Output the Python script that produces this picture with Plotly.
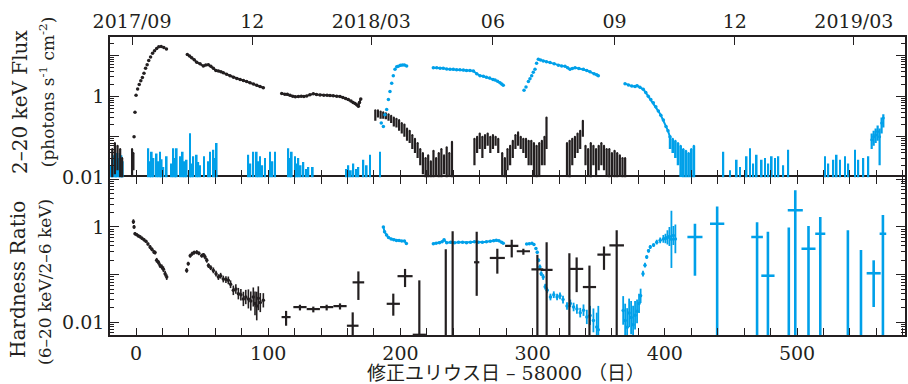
import plotly.graph_objects as go

BLACK = "#231f20"
BLUE = "#00a0e9"

# ---------------- axis labels ----------------
month_days = [-3, 88, 178, 270, 362, 453, 543]
month_labels = ["2017/09", "12", "2018/03", "06", "09", "12", "2019/03"]
x_major = [0, 100, 200, 300, 400, 500]
x_major_text = ["0", "100", "200", "300", "400", "500"]
y_labeled = [0.01, 1]
y_labeled_text = ["0.01", "1"]
y_unlabeled = [0.1, 10]

# ---------------- top panel: 2-20 keV flux ----------------
# black: outburst rise (discrete dots)
fx_blk_rise_day = [-1.5, -0.8, 0.0, 1.2, 2.4, 3.6, 4.8, 6.0, 7.2, 8.4, 9.6, 11.0, 12.5, 14.0, 15.6, 17.2, 19.0, 21.0, 23.0]
fx_blk_rise_val = [0.10, 0.40, 1.05, 1.5, 1.95, 2.4, 2.9, 3.7, 4.9, 6.0, 7.6, 9.3, 11.5, 13.2, 15.0, 16.5, 16.8, 16.0, 14.5]
# black: decay segments (dense)
fx_blk_dec1_day = [38.8, 40.5, 42.1, 44, 45.9, 48.4, 50.9, 52.8, 54.7, 56.6, 58.5, 60.4, 62.3, 64.2, 66, 68.5, 71.1, 73.7, 76.2, 78.7, 81.2, 83.7, 86.2, 88.8, 91.3, 93.8, 96.3]
fx_blk_dec1_val = [10.7, 9.8, 8.9, 7.9, 6.9, 6.3, 5.6, 5.9, 6.0, 5.5, 4.9, 4.3, 4.2, 4.0, 3.8, 3.5, 3.2, 2.95, 2.75, 2.6, 2.45, 2.3, 2.15, 2.0, 1.86, 1.74, 1.62]
fx_blk_dec2_day = [110.2, 112.5, 114.5, 116.5, 118.5, 120.5, 122.8, 125, 127, 129.1, 131.5, 134.1, 136.5, 139.2, 142, 144.5, 146.7, 149.2, 151.8, 154.3, 156.5, 158.6, 160.6, 162.6, 164.2, 165.7, 167, 168.2, 169, 170]
fx_blk_dec2_val = [1.17, 1.12, 1.12, 1.05, 1.0, 0.97, 0.98, 1.0, 0.98, 1.02, 1.08, 1.15, 1.1, 1.07, 1.06, 1.05, 1.04, 1.03, 1.0, 0.98, 0.93, 0.88, 0.83, 0.76, 0.7, 0.66, 0.62, 0.57, 0.7, 0.85]
# black: noisy points (range low..high)
fx_blk_noise_day = [-18, -16, -14, -12, -10.5, -3, -2,
                    181, 183, 185, 187, 189, 191, 193, 195, 197, 199, 201, 203, 205, 207, 209, 211, 213, 215, 217, 219, 221, 223, 225, 227, 229, 231, 233, 235, 237, 239,
                    256, 258, 260, 262, 264, 266, 268, 270, 272, 274, 277, 279, 281, 283, 285, 287, 289, 291, 293, 295, 297, 299, 301, 303, 305, 307, 309, 310.5,
                    326, 328, 330, 332, 334, 336, 338, 340, 342, 344, 346, 348, 350, 352, 354, 356, 358, 360, 362, 364, 366, 368, 370]
fx_blk_noise_lo = [0.01, 0.012, 0.015, 0.01, 0.008, 0.01, 0.015,
                   0.25, 0.3, 0.28, 0.28, 0.27, 0.25, 0.22, 0.18, 0.17, 0.14, 0.12, 0.1, 0.08, 0.07, 0.05, 0.04, 0.03, 0.02, 0.012, 0.008, 0.008, 0.008, 0.008, 0.01, 0.008, 0.008, 0.012, 0.008, 0.01, 0.008,
                   0.02, 0.04, 0.05, 0.03, 0.05, 0.06, 0.04, 0.05, 0.06, 0.04, 0.01, 0.008, 0.015, 0.02, 0.03, 0.05, 0.06, 0.05, 0.04, 0.03, 0.02, 0.02, 0.01, 0.008, 0.01, 0.02, 0.02, 0.05,
                   0.01, 0.008, 0.02, 0.03, 0.04, 0.05, 0.1, 0.02, 0.01, 0.008, 0.02, 0.01, 0.015, 0.02, 0.015, 0.01, 0.008, 0.01, 0.008, 0.008, 0.01, 0.008, 0.008]
fx_blk_noise_hi = [0.05, 0.07, 0.06, 0.05, 0.03, 0.05, 0.04,
                   0.45, 0.45, 0.42, 0.4, 0.38, 0.36, 0.33, 0.3, 0.28, 0.26, 0.22, 0.2, 0.16, 0.14, 0.11, 0.09, 0.07, 0.05, 0.04, 0.03, 0.035, 0.025, 0.045, 0.03, 0.04, 0.05, 0.035, 0.055, 0.04, 0.075,
                   0.09, 0.1, 0.12, 0.1, 0.11, 0.12, 0.1, 0.11, 0.1, 0.09, 0.04, 0.03, 0.05, 0.06, 0.08, 0.11, 0.13, 0.1, 0.09, 0.09, 0.08, 0.08, 0.07, 0.06, 0.07, 0.08, 0.1, 0.3,
                   0.07, 0.08, 0.09, 0.1, 0.12, 0.14, 0.25, 0.06, 0.05, 0.07, 0.06, 0.05, 0.06, 0.07, 0.06, 0.05, 0.05, 0.04, 0.045, 0.04, 0.035, 0.03, 0.03]
# blue: rises (discrete dots) and dense segments
fx_blu_rise1_day = [185.5, 187.1, 188.3, 189.6, 190.9, 192.1, 193.4, 194.6, 195.9, 197.2]
fx_blu_rise1_val = [0.22, 0.18, 0.35, 0.47, 0.83, 1.3, 2.1, 3.2, 4.6, 5.3]
fx_blu_rise2_day = [293.5, 295, 296.8, 298, 299.3, 300.5, 301.8, 303]
fx_blu_rise2_val = [1.4, 1.7, 2.3, 2.7, 3.2, 3.9, 4.6, 6.5]
fx_blu_seg1_day = [198.4, 200, 201.5, 203, 204.7]
fx_blu_seg1_val = [5.5, 5.8, 5.9, 5.9, 5.6]
fx_blu_seg2_day = [224.9, 227.5, 230, 232.4, 235, 237.5, 240, 242.5, 245, 247.6, 250, 252.6, 255.2, 257.7, 260.2, 262.7, 265, 267.5, 270, 271.6, 273.5, 275.3, 276.6, 277.8]
fx_blu_seg2_val = [5.0, 5.0, 4.9, 4.9, 4.7, 4.6, 4.6, 4.5, 4.5, 4.4, 4.3, 4.3, 4.2, 3.6, 3.2, 3.1, 2.95, 2.8, 2.6, 2.5, 2.35, 2.15, 2.0, 1.86]
fx_blu_seg3_day = [304.3, 306, 308.1, 310.5, 313.2, 316.3, 319.5, 322, 324.5, 326.5, 328.3, 330, 332.1, 335, 338.4, 341, 343.4, 346.5, 348.5, 349.7]
fx_blu_seg3_val = [8.1, 7.8, 7.4, 7.1, 6.8, 6.3, 5.8, 5.6, 5.5, 5.0, 4.6, 4.8, 5.0, 4.8, 4.6, 4.3, 4.0, 3.6, 3.4, 3.2]
fx_blu_seg4_day = [369.9, 372.5, 375, 377.5, 379, 381.2, 383.7, 385.6, 387.5, 389.4, 391.3, 393.2, 395.1, 397, 398.9, 400.9, 402.4, 403.9]
fx_blu_seg4_val = [2.04, 1.9, 1.78, 1.74, 1.82, 1.66, 1.48, 1.23, 1.0, 0.83, 0.69, 0.55, 0.43, 0.34, 0.26, 0.18, 0.14, 0.10]
# blue: noisy tail after decay (range low..high)
fx_blu_noise_day = [404, 406, 408, 410, 412, 414, 416, 418, 420, 422]
fx_blu_noise_lo = [0.05, 0.04, 0.03, 0.02, 0.01, 0.008, 0.008, 0.008, 0.008, 0.008]
fx_blu_noise_hi = [0.1, 0.09, 0.08, 0.07, 0.06, 0.05, 0.045, 0.04, 0.05, 0.06]
# blue: late re-brightening with error
fx_blu_end_day = [556.5, 558, 559.5, 561, 562.5, 564, 565.3]
fx_blu_end_val = [0.085, 0.1, 0.11, 0.135, 0.1, 0.22, 0.29]
fx_blu_end_lo = [0.05, 0.06, 0.07, 0.08, 0.02, 0.12, 0.17]
fx_blu_end_hi = [0.12, 0.14, 0.16, 0.19, 0.16, 0.3, 0.36]
# blue: upper-limit-like spikes from the bottom
fx_blu_spike_day = [-19, -18, -17, -16, -15, -14, -13, -12, -11, -10,
                    9.3, 10.6, 11.9, 13.2, 15.6, 16.9, 18.2, 19.4, 20.7, 23.2, 26.9, 28.2, 29.5, 30.8, 33.3, 35.3, 36.8, 38.3, 40.8, 42.0, 43.3, 45.9, 47.1, 48.4, 51.4, 54.5, 56, 58.5, 59.7, 61,
                    84.9, 86.5, 88.7, 91.3, 92.5, 93.8, 95.5, 97.6, 101.4, 103.2, 105.1, 115.2, 116.5, 117.8, 120.3, 121.5, 122.8, 124.5, 126.6, 128.5, 130.4, 133.7,
                    159.0, 160.6, 162.5, 164.4, 166.3, 168.2, 172, 174.5, 177, 184.6,
                    444.3, 449.3, 454.4, 456.9, 461.9, 464.4, 466.9, 469.5, 473.3, 475.8, 478.3, 480.9, 483.4, 485.9, 489.6, 493.4,
                    521.2, 523.7, 527.5, 530, 532.5, 536.3, 538.8, 543.9, 546.4, 550.2, 554]
fx_blu_spike_val = [0.02, 0.03, 0.035, 0.03, 0.035, 0.04, 0.03, 0.04, 0.035, 0.025,
                    0.052, 0.025, 0.043, 0.03, 0.039, 0.025, 0.043, 0.028, 0.018, 0.033, 0.022, 0.052, 0.03, 0.052, 0.033, 0.043, 0.025, 0.027, 0.123, 0.022, 0.033, 0.036, 0.024, 0.020, 0.033, 0.025, 0.043, 0.048, 0.03, 0.07,
                    0.036, 0.022, 0.043, 0.043, 0.025, 0.033, 0.02, 0.030, 0.043, 0.025, 0.043, 0.052, 0.03, 0.043, 0.033, 0.022, 0.030, 0.02, 0.024, 0.016, 0.018, 0.018,
                    0.016, 0.020, 0.015, 0.022, 0.016, 0.018, 0.027, 0.02, 0.036, 0.043,
                    0.043, 0.015, 0.027, 0.018, 0.033, 0.052, 0.022, 0.036, 0.027, 0.030, 0.022, 0.033, 0.030, 0.033, 0.020, 0.048,
                    0.033, 0.022, 0.027, 0.036, 0.027, 0.033, 0.022, 0.048, 0.027, 0.030, 0.033]

# ---------------- bottom panel: hardness ratio ----------------
hr_blk1_day = [-2.0, -1.5, -0.8, 0.5, 1.8, 3.0, 4.5, 6.0, 7.5, 9.0, 10.6, 12.0, 13.5, 14.4, 15.6, 17.0, 18.2, 19.5, 20.7, 22.0, 23.2]
hr_blk1_val = [1.29, 1.0, 0.72, 0.69, 0.65, 0.62, 0.58, 0.54, 0.50, 0.44, 0.38, 0.34, 0.30, 0.29, 0.20, 0.18, 0.155, 0.145, 0.13, 0.105, 0.089]
hr_blk1_dex = [0.05, 0.04, 0.03, 0.03, 0.03, 0.03, 0.03, 0.03, 0.03, 0.03, 0.04, 0.04, 0.04, 0.04, 0.05, 0.05, 0.05, 0.05, 0.06, 0.06, 0.06]
hr_blk2_day = [38.3, 39.5, 41.0, 42.5, 44.0, 45.9, 47.5, 49.7, 51.0, 52.2, 53.5, 54.8, 56.5, 58.5, 60.5, 62.3, 64.0, 66.0, 68.0, 69.8, 71.5, 73.6, 75.5, 77.4, 79.3, 81.2, 83.0, 85.0, 86.8, 88.7, 90.0, 91.3, 92.5, 94.0, 96.3]
hr_blk2_val = [0.123, 0.17, 0.25, 0.275, 0.29, 0.295, 0.28, 0.25, 0.26, 0.235, 0.20, 0.155, 0.14, 0.123, 0.105, 0.089, 0.095, 0.081, 0.079, 0.076, 0.063, 0.047, 0.05, 0.04, 0.038, 0.031, 0.034, 0.031, 0.028, 0.034, 0.025, 0.022, 0.032, 0.026, 0.029]
hr_blk2_dex = [0.05, 0.04, 0.04, 0.04, 0.04, 0.04, 0.04, 0.04, 0.04, 0.05, 0.05, 0.05, 0.05, 0.06, 0.06, 0.06, 0.06, 0.07, 0.07, 0.08, 0.08, 0.1, 0.1, 0.12, 0.12, 0.15, 0.15, 0.2, 0.2, 0.2, 0.25, 0.3, 0.25, 0.2, 0.15]
# black crosses: day, value, half-width (days), low, high
hr_blk_x_day = [113.5, 124, 134.1, 144.2, 154.3, 163.9, 168.2, 194.6, 203.5, 214.3, 234.3, 239.5, 257.7, 273.3, 284.2, 293, 303.6, 310.6, 327.8, 333.3, 343, 354, 363.6]
hr_blk_x_val = [0.0129, 0.0209, 0.019, 0.0209, 0.0219, 0.0085, 0.069, 0.0245, 0.093, 0.0055, 0.003, 0.003, 0.182, 0.224, 0.40, 0.31, 0.129, 0.126, 0.003, 0.132, 0.055, 0.263, 0.41]
hr_blk_x_hw = [3.4, 5, 5, 5, 5, 4.4, 4.4, 5, 5.7, 5, 0, 0, 2, 5.7, 5, 5, 4.5, 4.5, 0, 5, 5, 5, 5.5]
hr_blk_x_lo = [0.0085, 0.0178, 0.0162, 0.0178, 0.0186, 0.003, 0.0295, 0.0138, 0.055, 0.003, 0.003, 0.003, 0.036, 0.105, 0.23, 0.26, 0.003, 0.003, 0.003, 0.043, 0.003, 0.126, 0.003]
hr_blk_x_hi = [0.0174, 0.0234, 0.0214, 0.0234, 0.025, 0.0162, 0.117, 0.04, 0.132, 0.076, 0.34, 0.81, 0.79, 0.35, 0.54, 0.35, 0.26, 0.48, 0.28, 0.23, 0.155, 0.39, 0.85]
# blue dense segments
hr_blu1_day = [187.1, 188, 189.5, 191, 193, 195, 197, 199, 201, 203, 204.5]
hr_blu1_val = [1.0, 0.79, 0.68, 0.6, 0.56, 0.54, 0.52, 0.52, 0.51, 0.51, 0.45]
hr_blu2_day = [224.9, 227, 229.5, 231.5, 233, 235, 238, 241, 244, 247, 250, 253, 256, 259, 262, 265, 268, 270.5, 272.5, 274.5, 276.5, 277.8]
hr_blu2_val = [0.447, 0.457, 0.468, 0.49, 0.537, 0.468, 0.479, 0.468, 0.479, 0.479, 0.468, 0.479, 0.49, 0.479, 0.479, 0.49, 0.50, 0.513, 0.525, 0.513, 0.479, 0.457]
hr_blu3_day = [295.5, 297.5, 299.5, 301, 302.5, 303.5, 304.5, 305.5, 306.5, 308, 309.5, 311, 313.5, 316, 318.5, 320.7, 323, 326, 328.5, 331, 333.5, 336, 338.5, 341, 343.5, 346, 348.5, 349.7]
hr_blu3_val = [0.437, 0.447, 0.457, 0.427, 0.355, 0.295, 0.2, 0.145, 0.105, 0.089, 0.056, 0.047, 0.034, 0.038, 0.034, 0.036, 0.030, 0.022, 0.025, 0.021, 0.019, 0.016, 0.018, 0.013, 0.014, 0.011, 0.008, 0.007]
hr_blu3_dex = [0.02, 0.02, 0.02, 0.02, 0.03, 0.03, 0.04, 0.05, 0.05, 0.06, 0.06, 0.06, 0.07, 0.07, 0.07, 0.07, 0.08, 0.08, 0.08, 0.09, 0.1, 0.1, 0.12, 0.15, 0.2, 0.25, 0.3, 0.5]
hr_blu4_day = [368.5, 370, 371.5, 373, 374.5, 376, 377.5, 379, 380.5, 381.7, 383.5, 385, 386.3, 387.7, 389, 391.5, 393.9, 396.5, 398.9, 400.5, 402, 403.5, 405, 406.5, 408]
hr_blu4_val = [0.0178, 0.011, 0.0079, 0.0158, 0.0126, 0.0089, 0.0141, 0.017, 0.025, 0.036, 0.105, 0.158, 0.234, 0.316, 0.38, 0.417, 0.479, 0.525, 0.562, 0.575, 0.603, 0.631, 0.55, 0.66, 0.562]
hr_blu4_dex = [0.3, 0.35, 0.4, 0.3, 0.35, 0.4, 0.3, 0.25, 0.2, 0.15, 0.06, 0.05, 0.04, 0.04, 0.04, 0.04, 0.05, 0.06, 0.08, 0.1, 0.15, 0.2, 0.6, 0.2, 0.3]
# blue crosses: day, value, half-width (days), low, high
hr_blu_x_day = [422.8, 439.6, 469.8, 478, 493.8, 498.7, 508.7, 517.6, 538.5, 548.4, 558, 565]
hr_blu_x_val = [0.617, 1.17, 0.617, 0.095, 0.003, 2.24, 0.35, 0.72, 0.003, 0.003, 0.107, 0.72]
hr_blu_x_hw = [5.7, 5.4, 4.4, 5, 0, 5.7, 5.3, 3.8, 0, 0, 5.3, 2.5]
hr_blu_x_lo = [0.095, 0.003, 0.003, 0.003, 0.003, 0.003, 0.003, 0.003, 0.003, 0.003, 0.021, 0.003]
hr_blu_x_hi = [1.17, 2.7, 1.26, 0.79, 0.97, 5.9, 1.05, 1.62, 0.85, 0.33, 0.2, 1.78]


def rng_err(vals, lo, hi, color, thick=2.0):
    return dict(type="data", symmetric=False,
                array=[h - v for v, h in zip(vals, hi)],
                arrayminus=[v - l for v, l in zip(vals, lo)],
                color=color, thickness=thick, width=0)


def dex_err(vals, dex, color, thick=1.5):
    return dict(type="data", symmetric=False,
                array=[v * 10 ** d - v for v, d in zip(vals, dex)],
                arrayminus=[v - v / 10 ** d for v, d in zip(vals, dex)],
                color=color, thickness=thick, width=0)


fig = go.Figure()
TOP = dict(xaxis="x2", yaxis="y2")

# ---- top panel traces ----
fig.add_trace(go.Bar(x=fx_blu_spike_day, y=fx_blu_spike_val, width=1.3,
                     marker=dict(color=BLUE, line=dict(width=0)), **TOP))
fig.add_trace(go.Scatter(x=fx_blk_noise_day, y=fx_blk_noise_hi, mode="markers",
                         marker=dict(size=2, color=BLACK),
                         error_y=rng_err(fx_blk_noise_hi, fx_blk_noise_lo, fx_blk_noise_hi, BLACK, 2.2), **TOP))
fig.add_trace(go.Scatter(x=fx_blu_noise_day, y=fx_blu_noise_hi, mode="markers",
                         marker=dict(size=2, color=BLUE),
                         error_y=rng_err(fx_blu_noise_hi, fx_blu_noise_lo, fx_blu_noise_hi, BLUE, 2.6), **TOP))
fig.add_trace(go.Scatter(x=fx_blu_end_day, y=fx_blu_end_val, mode="markers",
                         marker=dict(size=3, color=BLUE),
                         error_y=rng_err(fx_blu_end_val, fx_blu_end_lo, fx_blu_end_hi, BLUE, 2.2), **TOP))
fig.add_trace(go.Scatter(x=fx_blk_rise_day, y=fx_blk_rise_val, mode="markers",
                         marker=dict(size=3.5, color=BLACK), **TOP))
for dd, vv in [(fx_blk_dec1_day, fx_blk_dec1_val), (fx_blk_dec2_day, fx_blk_dec2_val)]:
    fig.add_trace(go.Scatter(x=dd, y=vv, mode="lines+markers", line=dict(color=BLACK, width=2),
                             marker=dict(size=3.5, color=BLACK), **TOP))
for dd, vv in [(fx_blu_rise1_day, fx_blu_rise1_val), (fx_blu_rise2_day, fx_blu_rise2_val)]:
    fig.add_trace(go.Scatter(x=dd, y=vv, mode="markers", marker=dict(size=3.5, color=BLUE), **TOP))
for dd, vv in [(fx_blu_seg1_day, fx_blu_seg1_val), (fx_blu_seg2_day, fx_blu_seg2_val),
               (fx_blu_seg3_day, fx_blu_seg3_val), (fx_blu_seg4_day, fx_blu_seg4_val)]:
    fig.add_trace(go.Scatter(x=dd, y=vv, mode="lines+markers", line=dict(color=BLUE, width=2),
                             marker=dict(size=3.5, color=BLUE), **TOP))
# empty traces so the overlay axes (dates on top, unlabeled decade ticks) are drawn
fig.add_trace(go.Scatter(x=month_days, y=[None] * len(month_days), xaxis="x3", yaxis="y2",
                         mode="markers", hoverinfo="skip"))
fig.add_trace(go.Scatter(x=[None, None], y=y_unlabeled, xaxis="x", yaxis="y3",
                         mode="markers", hoverinfo="skip"))
fig.add_trace(go.Scatter(x=[None, None], y=y_unlabeled, xaxis="x2", yaxis="y4",
                         mode="markers", hoverinfo="skip"))

# ---- bottom panel traces ----
for dd, vv, ee in [(hr_blk1_day, hr_blk1_val, hr_blk1_dex), (hr_blk2_day, hr_blk2_val, hr_blk2_dex)]:
    fig.add_trace(go.Scatter(x=dd, y=vv, mode="markers", marker=dict(size=3.5, color=BLACK),
                             error_y=dex_err(vv, ee, BLACK, 1.6)))
for dd, vv, ee in [(hr_blu3_day, hr_blu3_val, hr_blu3_dex), (hr_blu4_day, hr_blu4_val, hr_blu4_dex)]:
    fig.add_trace(go.Scatter(x=dd, y=vv, mode="markers", marker=dict(size=3.5, color=BLUE),
                             error_y=dex_err(vv, ee, BLUE, 1.8)))
for dd, vv in [(hr_blu1_day, hr_blu1_val), (hr_blu2_day, hr_blu2_val)]:
    fig.add_trace(go.Scatter(x=dd, y=vv, mode="lines+markers", line=dict(color=BLUE, width=2),
                             marker=dict(size=3.5, color=BLUE)))
fig.add_trace(go.Scatter(x=hr_blk_x_day, y=hr_blk_x_val, mode="markers", marker=dict(size=1, color=BLACK),
                         error_y=rng_err(hr_blk_x_val, hr_blk_x_lo, hr_blk_x_hi, BLACK, 2.2),
                         error_x=dict(type="data", array=hr_blk_x_hw, color=BLACK, thickness=2.2, width=0)))
fig.add_trace(go.Scatter(x=hr_blu_x_day, y=hr_blu_x_val, mode="markers", marker=dict(size=1, color=BLUE),
                         error_y=rng_err(hr_blu_x_val, hr_blu_x_lo, hr_blu_x_hi, BLUE, 2.6),
                         error_x=dict(type="data", array=hr_blu_x_hw, color=BLUE, thickness=2.6, width=0)))

XR = [-19.7, 581.7]
YR_BOT = [-2.265, 1.04]
YR_TOP = [-2.0, 1.46]
minor_y = [m * 10 ** e for e in range(-3, 2) for m in range(2, 10)]
TICKFONT = dict(family="DejaVu Serif", size=19, color=BLACK)

axis_common = dict(showline=True, linecolor=BLACK, linewidth=1.6, showgrid=False, zeroline=False,
                   ticks="inside", tickcolor=BLACK, tickwidth=1.4, tickfont=TICKFONT, automargin=False)
x_minor = dict(ticks="inside", ticklen=7, tickwidth=1.4, tickcolor=BLACK, dtick=20, tick0=0)
yaxis_common = dict(axis_common, type="log", tickmode="array", tickvals=y_labeled, ticktext=y_labeled_text,
                    ticklen=9, mirror="ticks",
                    minor=dict(ticks="inside", ticklen=4, tickwidth=1, tickcolor=BLACK, tickvals=minor_y))
y_overlay = dict(type="log", tickmode="array", tickvals=y_unlabeled, showticklabels=False,
                 ticks="inside", ticklen=9, tickwidth=1.4, tickcolor=BLACK, showline=False,
                 mirror="ticks", showgrid=False, zeroline=False, automargin=False)

fig.update_layout(
    width=908, height=384,
    margin=dict(l=110, r=3, t=37, b=49, autoexpand=False),
    paper_bgcolor="white", plot_bgcolor="white",
    showlegend=False, barmode="overlay",
    xaxis=dict(axis_common, domain=[0, 1], anchor="y", range=XR, tickmode="array",
               tickvals=x_major, ticktext=x_major_text, ticklen=7, mirror="ticks", minor=x_minor),
    yaxis=dict(yaxis_common, domain=[0, 0.529], anchor="x", range=YR_BOT),
    yaxis3=dict(y_overlay, overlaying="y", anchor="x", range=YR_BOT),
    xaxis2=dict(axis_common, domain=[0, 1], anchor="y2", range=XR, tickmode="array",
                tickvals=x_major, ticklen=7, showticklabels=False, showline=False, mirror=False,
                minor=x_minor),
    yaxis2=dict(yaxis_common, domain=[0.529, 1], anchor="x2", range=YR_TOP),
    yaxis4=dict(y_overlay, overlaying="y2", anchor="x2", range=YR_TOP),
    xaxis3=dict(axis_common, overlaying="x2", anchor="y2", side="top", range=XR, tickmode="array",
                tickvals=month_days, ticktext=month_labels, ticklen=8),
    font=dict(family="DejaVu Serif", color=BLACK),
)

ann_font = "DejaVu Serif, Noto Sans CJK JP"
annots = [
    ("2–20 keV Flux", -0.1132, 0.782, 20),
    ("(photons s<sup>-1</sup> cm<sup>-2</sup>)", -0.0792, 0.815, 17),
    ("Hardness Ratio", -0.1157, 0.1846, 20),
    ("(6–20 keV/2–6 keV)", -0.0818, 0.178, 17),
]
for txt, ax, ay, fs in annots:
    fig.add_annotation(text=txt, x=ax, y=ay, xref="paper", yref="paper", textangle=-90,
                       showarrow=False, xanchor="center", yanchor="middle",
                       font=dict(family=ann_font, size=fs, color=BLACK))
fig.add_annotation(text="修正ユリウス日 – 58000 （日）", x=0.498, y=-0.1275, xref="paper", yref="paper",
                   showarrow=False, xanchor="center", yanchor="middle",
                   font=dict(family=ann_font, size=19, color=BLACK))

fig.write_html("out.html", config={"displayModeBar": False},
               post_script="document.body.style.margin='0';document.body.style.overflow='hidden';")
